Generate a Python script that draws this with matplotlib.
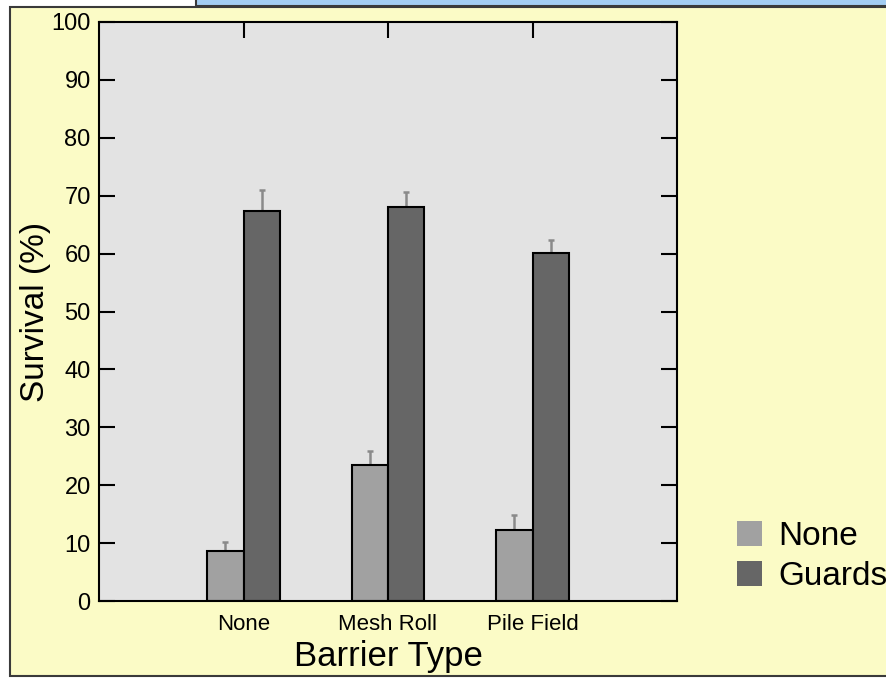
import matplotlib
matplotlib.use("Agg")
import matplotlib.pyplot as plt
from matplotlib.patches import Rectangle, Patch
import numpy as np

plt.rcParams['font.family'] = ['Liberation Sans', 'DejaVu Sans']

categories = ["None", "Mesh Roll", "Pile Field"]
series_names = ["None", "Guards"]
none_vals = [8.7, 23.5, 12.3]
none_err = [1.5, 2.4, 2.6]
guards_vals = [67.4, 68.0, 60.1]
guards_err = [3.6, 2.6, 2.2]
yticks = list(range(0, 101, 10))
colors = ["#a1a1a1", "#666666"]

W, H = 886, 678
fig = plt.figure(figsize=(W / 100, H / 100), dpi=100, facecolor="white")

# background panels
fig.patches.append(Rectangle((196 / W, 1 - 6 / H), 1.0, 0.05, transform=fig.transFigure,
                             facecolor="#a3cdf2", edgecolor="#3a3a3a", linewidth=1.5, zorder=-3))
fig.patches.append(Rectangle((10 / W, 1 - 676 / H), 1.0, (676 - 7) / H, transform=fig.transFigure,
                             facecolor="#fbfbc6", edgecolor="#3a3a3a", linewidth=1.5, zorder=-2))

ax = fig.add_axes([99 / W, 1 - 601 / H, (677 - 99) / W, (601 - 22) / H])
ax.set_facecolor("#e3e3e3")

x = np.arange(1, len(categories) + 1)
w = 0.25
ax.bar(x - w / 2, none_vals, w, color=colors[0], edgecolor="black", linewidth=1.5, zorder=2)
ax.bar(x + w / 2, guards_vals, w, color=colors[1], edgecolor="black", linewidth=1.5, zorder=2)
ax.errorbar(x - w / 2, none_vals, yerr=[np.zeros(3), none_err], fmt="none", ecolor="#8a8a8a",
            elinewidth=1.8, capsize=2.5, capthick=1.8, zorder=1.5)
ax.errorbar(x + w / 2, guards_vals, yerr=[np.zeros(3), guards_err], fmt="none", ecolor="#8a8a8a",
            elinewidth=1.8, capsize=2.5, capthick=1.8, zorder=1.5)

ax.set_xlim(0, 4)
ax.set_ylim(0, 100)
ax.set_yticks(yticks)
ax.set_xticks(x)
ax.set_xticklabels(categories, fontsize=16)
ax.tick_params(axis="y", labelsize=17, direction="in", length=11.5, width=1.5,
               left=True, right=True, pad=6)
ax.tick_params(axis="x", direction="in", length=11.5, width=1.5, top=True, bottom=True, pad=9)
for s in ax.spines.values():
    s.set_linewidth(1.5)

ax.set_ylabel("Survival (%)", fontsize=24, labelpad=0)
ax.set_xlabel("Barrier Type", fontsize=25, labelpad=4)

handles = [Patch(facecolor=c, edgecolor="none") for c in colors]
fig.legend(handles=handles, labels=series_names, loc="upper left",
           bbox_to_anchor=(737 / W, 1 - 521 / H), frameon=False, fontsize=24,
           handlelength=0.75, handleheight=0.75, handletextpad=0.5, labelspacing=0.27,
           borderpad=0, borderaxespad=0)

fig.savefig("out.png", dpi=100, facecolor="white")
